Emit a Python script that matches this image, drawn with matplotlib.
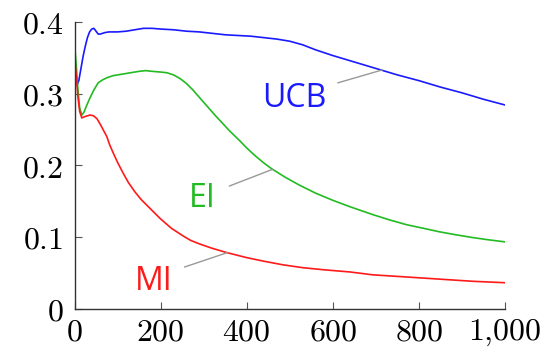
import numpy as np
import matplotlib
matplotlib.use('Agg')
import matplotlib.pyplot as plt

# data
ucb_x = [0, 3, 6, 10, 15, 20, 25, 30, 35, 40, 45, 50, 55, 60, 70, 80, 100, 120, 140,
         160, 180, 200, 230, 260, 290, 320, 350, 380, 410, 440, 470, 500, 530, 560,
         600, 650, 700, 750, 800, 850, 900, 950, 1000]
ucb_y = [0.355, 0.33, 0.312, 0.318, 0.335, 0.352, 0.366, 0.378, 0.386, 0.390, 0.391,
         0.387, 0.383, 0.383, 0.385, 0.386, 0.386, 0.387, 0.389, 0.391, 0.391, 0.390,
         0.389, 0.387, 0.386, 0.384, 0.382, 0.381, 0.380, 0.378, 0.376, 0.373, 0.368,
         0.361, 0.353, 0.344, 0.335, 0.326, 0.318, 0.309, 0.301, 0.292, 0.284]

ei_x = [0, 4, 8, 12, 17, 22, 28, 36, 45, 55, 65, 75, 90, 110, 130, 150, 165, 180, 200,
        215, 230, 245, 260, 275, 291, 310, 326, 340, 360, 384, 400, 420, 440, 458, 490,
        523, 560, 600, 640, 693, 730, 771, 810, 848, 885, 925, 960, 1000]
ei_y = [0.37, 0.34, 0.305, 0.28, 0.27, 0.274, 0.283, 0.294, 0.305, 0.315, 0.319, 0.322,
        0.325, 0.327, 0.329, 0.331, 0.332, 0.331, 0.330, 0.329, 0.326, 0.321, 0.314,
        0.305, 0.294, 0.281, 0.27, 0.261, 0.248, 0.234, 0.224, 0.213, 0.203, 0.195,
        0.183, 0.172, 0.161, 0.151, 0.142, 0.131, 0.124, 0.117, 0.112, 0.107, 0.103,
        0.099, 0.096, 0.093]

mi_x = [0, 4, 8, 12, 17, 25, 36, 44, 52, 60, 67, 75, 82, 90, 100, 112, 125, 140, 155,
        175, 200, 225, 253, 270, 291, 320, 354, 400, 440, 484, 530, 580, 640, 693, 771,
        848, 925, 1000]
mi_y = [0.35, 0.325, 0.295, 0.275, 0.266, 0.268, 0.27, 0.269, 0.265, 0.257, 0.249,
        0.24, 0.228, 0.217, 0.204, 0.19, 0.176, 0.163, 0.152, 0.140, 0.125, 0.112, 0.101,
        0.095, 0.090, 0.084, 0.078, 0.071, 0.066, 0.061, 0.057, 0.054, 0.051, 0.047,
        0.044, 0.041, 0.038, 0.036]

x_ticks = [0, 200, 400, 600, 800, 1000]
x_tick_labels = ['$0$', '$200$', '$400$', '$600$', '$800$', '$1{,}000$']
y_ticks = [0, 0.1, 0.2, 0.3, 0.4]
y_tick_labels = ['$0$', '$0.1$', '$0.2$', '$0.3$', '$0.4$']

plt.rcParams['mathtext.fontset'] = 'cm'

fig = plt.figure(figsize=(5.45, 3.53), dpi=100)
ax = fig.add_axes([0.1367, 0.126, 0.79, 0.812])

blue = '#1a1aff'
green = '#22bb22'
red = '#ff1a1a'

ax.plot(ucb_x, ucb_y, color=blue, lw=1.2)
ax.plot(ei_x, ei_y, color=green, lw=1.2)
ax.plot(mi_x, mi_y, color=red, lw=1.2)

# labels with grey pin lines
labels = [('UCB', blue, 510, 0.281, (612, 715), (0.315, 0.333)),
          ('EI', green, 296, 0.142, (360, 459), (0.171, 0.194)),
          ('MI', red, 183, 0.026, (256, 355), (0.058, 0.078))]
for name, col, tx, ty, lx, ly in labels:
    ax.plot(lx, ly, color='#999999', lw=1.0)
    ax.text(tx, ty, name, color=col, fontsize=23, family='Open Sans',
            ha='center', va='baseline')

ax.set_xlim(0, 1000)
ax.set_ylim(0, 0.4)
ax.set_xticks(x_ticks)
ax.set_xticklabels(x_tick_labels)
ax.set_yticks(y_ticks)
ax.set_yticklabels(y_tick_labels)

for s in ['top', 'right']:
    ax.spines[s].set_visible(False)
for s in ['left', 'bottom']:
    ax.spines[s].set_linewidth(1.0)
    ax.spines[s].set_color('#333333')

ax.tick_params(direction='in', length=5, width=0.8, color='#555555',
               labelsize=23, pad=6)
ax.tick_params(axis='y', pad=8)

fig.savefig('out.png', dpi=100)
